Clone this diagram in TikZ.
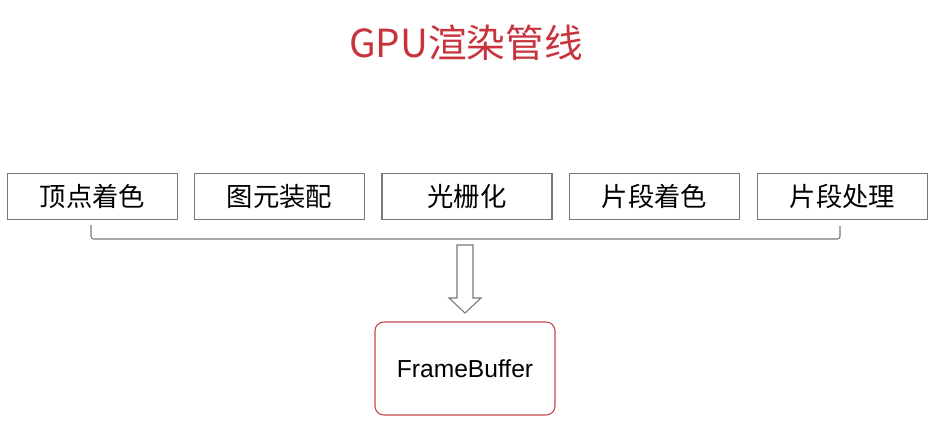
\documentclass[tikz,border=0pt]{standalone}
\usepackage{fontspec}
\setmainfont{Liberation Sans}
\newfontfamily\cjk{Noto Sans CJK SC}
\usepackage{tikz}
\usetikzlibrary{positioning}

\definecolor{titlered}{RGB}{200,52,62}
\definecolor{fbred}{RGB}{196,70,76}
\definecolor{boxgray}{RGB}{120,120,120}

\tikzset{
    stage/.style={draw=boxgray, line width=0.6pt, minimum width=3.4cm, minimum height=0.92cm,
        inner sep=0pt, font=\cjk\fontsize{15}{15}\selectfont},
    fbbox/.style={draw=fbred, line width=0.6pt, rounded corners=5pt, minimum width=3.6cm,
        minimum height=1.86cm, inner sep=0pt, font=\fontsize{14}{14}\selectfont},
}

\begin{document}
\begin{tikzpicture}[x=0.02cm, y=-0.02cm]
    \useasboundingbox (0,0) rectangle (931,427);
    % 标题
    \node[text=titlered, font=\cjk\fontsize{22}{22}\selectfont] (title) at (466,43) {GPU渲染管线};
    % 五个阶段
    \node[stage] (vs) at (92.5,196.5) {顶点着色};
    \node[stage] (pa) at (279.5,196.5) {图元装配};
    \node[stage] (ra) at (467,196.5) {光栅化};
    \node[stage] (fs) at (654.5,196.5) {片段着色};
    \node[stage] (fp) at (842.5,196.5) {片段处理};
    % 括线
    \coordinate (bl) at (91,225);
    \coordinate (br) at (840,226);
    \draw[boxgray, line width=0.6pt, rounded corners=1.5pt] (bl) -- ++(0,14) -| (br);
    % FrameBuffer
    \node[fbbox] (fb) at (465,368.5) {FrameBuffer};
    % 空心箭头
    \draw[boxgray, line width=0.6pt] (457,245) -- (473,245) -- (473,298) -- (481,298)
        -- (465,313) -- (449,298) -- (457,298) -- cycle;
\end{tikzpicture}
\end{document}
